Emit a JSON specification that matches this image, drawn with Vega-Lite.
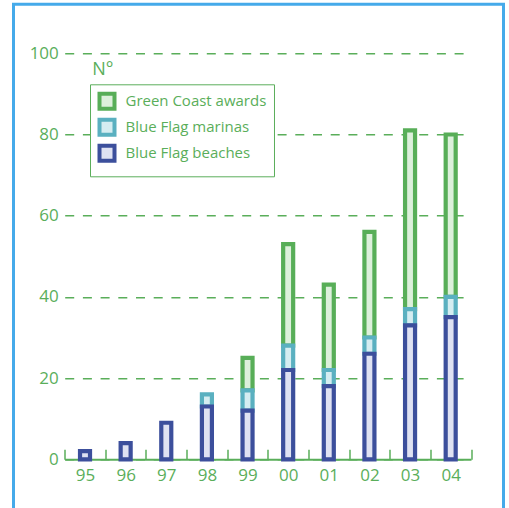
{
  "$schema": "https://vega.github.io/schema/vega-lite/v6.json",
  "autosize": {"type": "none"},
  "padding": {"top": 4.3, "left": 13.5, "right": 5.5, "bottom": 0},
  "width": 490,
  "height": 506,
  "background": "white",
  "config": {
    "view": {"stroke": "#45aaea", "strokeWidth": 3, "fill": null},
    "font": "Open Sans"
  },
  "data": {
    "values": [
      {"year": "99", "type": "Green Coast awards", "n": 8},
      {"year": "00", "type": "Green Coast awards", "n": 25},
      {"year": "01", "type": "Green Coast awards", "n": 21},
      {"year": "02", "type": "Green Coast awards", "n": 26},
      {"year": "03", "type": "Green Coast awards", "n": 44},
      {"year": "04", "type": "Green Coast awards", "n": 40},
      {"year": "98", "type": "Blue Flag marinas", "n": 3},
      {"year": "99", "type": "Blue Flag marinas", "n": 5},
      {"year": "00", "type": "Blue Flag marinas", "n": 6},
      {"year": "01", "type": "Blue Flag marinas", "n": 4},
      {"year": "02", "type": "Blue Flag marinas", "n": 4},
      {"year": "03", "type": "Blue Flag marinas", "n": 4},
      {"year": "04", "type": "Blue Flag marinas", "n": 5},
      {"year": "95", "type": "Blue Flag beaches", "n": 2},
      {"year": "96", "type": "Blue Flag beaches", "n": 4},
      {"year": "97", "type": "Blue Flag beaches", "n": 9},
      {"year": "98", "type": "Blue Flag beaches", "n": 13},
      {"year": "99", "type": "Blue Flag beaches", "n": 12},
      {"year": "00", "type": "Blue Flag beaches", "n": 22},
      {"year": "01", "type": "Blue Flag beaches", "n": 18},
      {"year": "02", "type": "Blue Flag beaches", "n": 26},
      {"year": "03", "type": "Blue Flag beaches", "n": 33},
      {"year": "04", "type": "Blue Flag beaches", "n": 35}
    ]
  },
  "mark": {"type": "bar", "width": 10, "strokeWidth": 4.2},
  "encoding": {
    "x": {
      "field": "year",
      "type": "ordinal",
      "sort": ["95", "96", "97", "98", "99", "00", "01", "02", "03", "04"],
      "scale": {"range": [51.2, 457.5], "paddingInner": 0, "paddingOuter": 0},
      "axis": {
        "title": null,
        "orient": "bottom",
        "offset": -51,
        "domainColor": "#5aae5a",
        "domainWidth": 2,
        "tickBand": "extent",
        "tickColor": "#5aae5a",
        "tickWidth": 1.5,
        "tickSize": -10,
        "labelPadding": 18,
        "labelAngle": 0,
        "labelFontSize": 17,
        "labelColor": "#5aae5a",
        "labelFont": "Open Sans",
        "grid": false
      }
    },
    "y": {
      "field": "n",
      "type": "quantitative",
      "aggregate": "sum",
      "stack": "zero",
      "scale": {"domain": [0, 100], "range": [455, 49], "nice": false},
      "axis": {
        "values": [0, 20, 40, 60, 80, 100],
        "offset": -46.8,
        "domain": false,
        "ticks": false,
        "tickSize": 0,
        "labelPadding": 2,
        "labelFontSize": 17,
        "labelColor": "#5aae5a",
        "labelFont": "Open Sans",
        "grid": true,
        "gridColor": "#5aae5a",
        "gridWidth": 1.5,
        "gridDash": [9, 8.7],
        "title": "N°",
        "titleAngle": 0,
        "titleAlign": "center",
        "titleBaseline": "alphabetic",
        "titleX": 42,
        "titleY": 70,
        "titleFontSize": 18,
        "titleFontWeight": "normal",
        "titleColor": "#5aae5a",
        "titleFont": "Open Sans"
      }
    },
    "fill": {
      "field": "type",
      "type": "nominal",
      "scale": {
        "domain": ["Green Coast awards", "Blue Flag marinas", "Blue Flag beaches"],
        "range": ["#ddf0dc", "#d5edf1", "#dfe2f2"]
      },
      "legend": {
        "title": null,
        "orient": "none",
        "legendX": 76.5,
        "legendY": 80,
        "padding": 7.5,
        "strokeColor": "#5aae5a",
        "fillColor": "white",
        "symbolType": "square",
        "symbolSize": 225,
        "symbolStrokeWidth": 4,
        "labelFontSize": 15,
        "labelColor": "#5aae5a",
        "labelFont": "Open Sans",
        "labelOffset": 9,
        "rowPadding": -5
      }
    },
    "stroke": {
      "field": "type",
      "type": "nominal",
      "scale": {
        "domain": ["Green Coast awards", "Blue Flag marinas", "Blue Flag beaches"],
        "range": ["#58ae58", "#5ab0c0", "#3c4f9c"]
      },
      "legend": {
        "title": null,
        "orient": "none",
        "legendX": 76.5,
        "legendY": 80,
        "padding": 7.5,
        "strokeColor": "#5aae5a",
        "fillColor": "white",
        "symbolType": "square",
        "symbolSize": 225,
        "symbolStrokeWidth": 4,
        "labelFontSize": 15,
        "labelColor": "#5aae5a",
        "labelFont": "Open Sans",
        "labelOffset": 9,
        "rowPadding": -5
      }
    },
    "order": {"field": "type", "sort": "ascending"}
  }
}
